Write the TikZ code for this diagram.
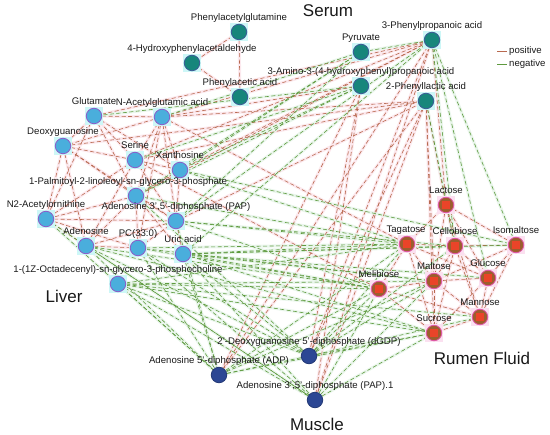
\documentclass[tikz,border=0pt]{standalone}
\usepackage{fontspec}
\setmainfont{Liberation Sans}
\usetikzlibrary{positioning}
\definecolor{NetInk}{gray}{0.1}
\definecolor{NetSerum}{HTML}{17867B}
\definecolor{NetSerumRing}{HTML}{3B5C96}
\definecolor{NetLiver}{HTML}{4AAEDC}
\definecolor{NetLiverRing}{HTML}{8A5CC8}
\definecolor{NetRumen}{HTML}{9C5E2E}
\definecolor{NetRumenCore}{HTML}{EA4429}
\definecolor{NetRumenRing}{HTML}{E057A8}
\definecolor{NetMuscle}{HTML}{2C4794}
\definecolor{NetPositive}{HTML}{B8694F}
\definecolor{NetNegative}{HTML}{5E9A3E}
\definecolor{NetPosHalo}{HTML}{FCE9EE}
\definecolor{NetNegHalo}{HTML}{EAF6EC}
\definecolor{NetHaloCyan}{HTML}{CDF7F7}
\definecolor{NetHaloPink}{HTML}{FBE0F0}
\pgfdeclarelayer{edges}
\pgfdeclarelayer{halos}
\pgfsetlayers{edges,halos,main}
\tikzset{
    net/diagram/.style={
        x=1pt, y=-1pt,
        font=\fontsize{9.6}{11}\selectfont,
        text=NetInk
    },
    net/metab/.style={circle, minimum size=15.5pt, inner sep=0pt, line width=0.8pt},
    net/serum/.style={net/metab, fill=NetSerum, draw=NetSerumRing},
    net/liver/.style={net/metab, fill=NetLiver, draw=NetLiverRing},
    net/rumen/.style={net/metab, fill=NetRumen, draw=NetRumenRing,
        path picture={\fill[NetRumenCore] (path picture bounding box.center)
            ++(-3.8,-3.8) rectangle ++(7.6,7.6);}},
    net/muscle/.style={net/metab, fill=NetMuscle, draw=NetMuscle!80!black},
    net/label/.style={inner sep=1pt, text height=7pt, text depth=2pt},
    net/group/.style={font=\fontsize{17}{20}\selectfont, inner sep=0pt},
    net/positive/.style={draw=NetPositive, line width=0.6pt, dash pattern=on 4pt off 2.5pt},
    net/negative/.style={draw=NetNegative, line width=0.6pt, dash pattern=on 4pt off 2.5pt},
    net/poshalo/.style={draw=NetPosHalo, line width=3pt},
    net/neghalo/.style={draw=NetNegHalo, line width=3pt},
    net/key/.style={line width=0.8pt}
}
\begin{document}
\begin{tikzpicture}[net/diagram]
    \useasboundingbox (0,0) rectangle (550,435);
    % Serum
    \node[net/serum] (pag) at (239,32) {};
    \node[net/serum] (hpa) at (192,63) {};
    \node[net/serum] (paa) at (240,97) {};
    \node[net/serum] (pyr) at (361,52) {};
    \node[net/serum] (ppa) at (432,40) {};
    \node[net/serum] (ahp) at (361,86) {};
    \node[net/serum] (pla) at (426,101) {};
    % Liver
    \node[net/liver] (glu) at (94,116) {};
    \node[net/liver] (naga) at (162,117) {};
    \node[net/liver] (dgu) at (63,146) {};
    \node[net/liver] (ser) at (135,160) {};
    \node[net/liver] (xan) at (180,170) {};
    \node[net/liver] (plpg) at (136,196) {};
    \node[net/liver] (nao) at (46,219) {};
    \node[net/liver] (pap) at (176,221) {};
    \node[net/liver] (ado) at (86,246) {};
    \node[net/liver] (pc) at (138,248) {};
    \node[net/liver] (uri) at (183,254) {};
    \node[net/liver] (opc) at (118,284) {};
    % Rumen fluid
    \node[net/rumen] (lac) at (446,205) {};
    \node[net/rumen] (tag) at (407,244) {};
    \node[net/rumen] (cel) at (455,246) {};
    \node[net/rumen] (iso) at (516,245) {};
    \node[net/rumen] (mal) at (434,281) {};
    \node[net/rumen] (gluc) at (488,278) {};
    \node[net/rumen] (mel) at (379,289) {};
    \node[net/rumen] (man) at (480,317) {};
    \node[net/rumen] (suc) at (434,333) {};
    % Muscle
    \node[net/muscle] (dgdp) at (309,356) {};
    \node[net/muscle] (adp) at (219,375) {};
    \node[net/muscle] (papm) at (315,400) {};

    \node[net/label, above=0pt of pag] (pag-l) {Phenylacetylglutamine};
    \node[net/label, above=0pt of hpa] (hpa-l) {4-Hydroxyphenylacetaldehyde};
    \node[net/label, above=0pt of paa] (paa-l) {Phenylacetic acid};
    \node[net/label, above=0pt of pyr] (pyr-l) {Pyruvate};
    \node[net/label, above=0pt of ppa] (ppa-l) {3-Phenylpropanoic acid};
    \node[net/label, above=0pt of ahp] (ahp-l) {3-Amino-3-(4-hydroxyphenyl)propanoic acid};
    \node[net/label, above=0pt of pla] (pla-l) {2-Phenyllactic acid};
    \node[net/label, above=0pt of glu] (glu-l) {Glutamate};
    \node[net/label, above=0pt of naga] (naga-l) {N-Acetylglutamic acid};
    \node[net/label, above=0pt of dgu] (dgu-l) {Deoxyguanosine};
    \node[net/label, above=0pt of ser] (ser-l) {Serine};
    \node[net/label, above=0pt of xan] (xan-l) {Xanthosine};
    \node[net/label, above=0pt of plpg, xshift=-8pt] (plpg-l) {1-Palmitoyl-2-linoleoyl-sn-glycero-3-phosphate};
    \node[net/label, above=0pt of nao] (nao-l) {N2-Acetylornithine};
    \node[net/label, above=0pt of pap] (pap-l) {Adenosine 3',5'-diphosphate (PAP)};
    \node[net/label, above=0pt of ado] (ado-l) {Adenosine};
    \node[net/label, above=0pt of pc] (pc-l) {PC(33:0)};
    \node[net/label, above=0pt of uri] (uri-l) {Uric acid};
    \node[net/label, above=0pt of opc] (opc-l) {1-(1Z-Octadecenyl)-sn-glycero-3-phosphocholine};
    \node[net/label, above=0pt of lac] (lac-l) {Lactose};
    \node[net/label, above=0pt of tag, xshift=-1pt] (tag-l) {Tagatose};
    \node[net/label, above=0pt of cel] (cel-l) {Cellobiose};
    \node[net/label, above=0pt of iso] (iso-l) {Isomaltose};
    \node[net/label, above=0pt of mal] (mal-l) {Maltose};
    \node[net/label, above=0pt of gluc] (gluc-l) {Glucose};
    \node[net/label, above=0pt of mel] (mel-l) {Melibiose};
    \node[net/label, above=0pt of man] (man-l) {Mannose};
    \node[net/label, above=0pt of suc] (suc-l) {Sucrose};
    \node[net/label, above=0pt of dgdp] (dgdp-l) {2'-Deoxyguanosine 5'-diphosphate (dGDP)};
    \node[net/label, above=0pt of adp] (adp-l) {Adenosine 5'-diphosphate (ADP)};
    \node[net/label, above=0pt of papm] (papm-l) {Adenosine 3',5'-diphosphate (PAP).1};

    \node[net/group] (serum) at (328,11) {Serum};
    \node[net/group] (liver) at (64,296) {Liver};
    \node[net/group] (rumen) at (482,358) {Rumen Fluid};
    \node[net/group] (muscle) at (317,424) {Muscle};

    \def\PosEdges{pag/hpa, pag/paa, hpa/paa,
        glu/naga, glu/dgu, glu/ser, glu/plpg, glu/nao, glu/xan, dgu/ser, dgu/plpg,
        dgu/nao, dgu/ado, dgu/pap, naga/ser, naga/xan, naga/plpg, naga/pap, naga/pc,
        naga/dgu, ser/xan, ser/ado, ser/nao, ser/pap, plpg/nao, plpg/pap, plpg/ado,
        plpg/pc, nao/pap, nao/ado, nao/pc, ado/pc, ado/pap, pc/pap, uri/pap, xan/pap,
        xan/plpg, uri/plpg,
        naga/ppa, naga/pla, glu/ppa, ser/ppa, plpg/ppa, dgu/pla, xan/ppa, ser/pla,
        naga/ahp, pap/pla, naga/tag, ser/mel,
        ppa/dgdp, ppa/papm, ppa/adp, ahp/dgdp, ahp/papm, pla/dgdp, pla/papm, pla/adp,
        ahp/adp, pla/suc, ppa/lac, pla/lac, pla/mal,
        lac/tag, lac/cel, lac/iso, lac/mal, lac/gluc, tag/cel, tag/mal, tag/mel,
        tag/suc, cel/iso, cel/mal, cel/gluc, cel/man, iso/gluc, iso/man, iso/mal,
        mal/gluc, mal/man, mal/suc, mal/mel, gluc/man, gluc/suc, man/suc, mel/suc,
        mel/man, lac/man, cel/suc, tag/gluc}
    \def\NegEdges{pyr/ppa, pyr/xan, pyr/pap, pyr/naga, pyr/plpg,
        ahp/glu, ahp/ser, ahp/xan, ahp/plpg, ppa/pap, ppa/uri, ppa/cel, ppa/gluc,
        ppa/iso, pla/cel,
        uri/tag, uri/mel, uri/mal, uri/suc, uri/cel, uri/iso, uri/gluc, opc/tag,
        opc/mel, opc/mal, opc/suc, opc/man, pc/tag, pc/mel, pc/mal, pap/tag, pap/cel,
        pap/mel, xan/tag, xan/iso, ado/mel, ado/suc, plpg/tag,
        opc/adp, opc/dgdp, opc/papm, ado/adp, ado/papm, ado/dgdp, pc/adp, pc/dgdp,
        pc/papm, uri/dgdp, uri/papm, uri/adp, nao/adp, nao/papm, pap/adp, plpg/dgdp,
        dgdp/mel, dgdp/tag, dgdp/suc, dgdp/mal, dgdp/man, dgdp/cel, adp/mel, adp/suc,
        adp/tag, adp/mal, papm/suc, papm/mel, papm/mal, adp/dgdp}

    \begin{pgfonlayer}{edges}
        \foreach \a/\b in \PosEdges {\draw[net/poshalo] (\a) -- (\b);}
        \foreach \a/\b in \NegEdges {\draw[net/neghalo] (\a) -- (\b);}
        \foreach \a/\b in \PosEdges {\draw[net/positive] (\a) -- (\b);}
        \foreach \a/\b in \NegEdges {\draw[net/negative] (\a) -- (\b);}
    \end{pgfonlayer}
    \begin{pgfonlayer}{halos}
        \foreach \n in {pag,hpa,paa,pyr,ppa,ahp,pla,glu,naga,dgu,ser,xan,plpg,nao,pap,ado,pc,uri,opc}
            {\fill[NetHaloCyan] (\n.center) ++(-9,-9) rectangle ++(18,18);}
        \foreach \n in {lac,tag,cel,iso,mal,gluc,mel,man,suc}
            {\fill[NetHaloPink] (\n.center) ++(-9,-9) rectangle ++(18,18);}
    \end{pgfonlayer}

    % legend
    \coordinate (pos-a) at (497,51);
    \coordinate (pos-b) at (507,51);
    \coordinate (neg-a) at (497,64);
    \coordinate (neg-b) at (507,64);
    \draw[net/key, NetPositive] (pos-a) -- (pos-b);
    \draw[net/key, NetNegative] (neg-a) -- (neg-b);
    \node[net/label, right=1pt of pos-b] (pos-l) {positive};
    \node[net/label, right=1pt of neg-b] (neg-l) {negative};
\end{tikzpicture}
\end{document}
